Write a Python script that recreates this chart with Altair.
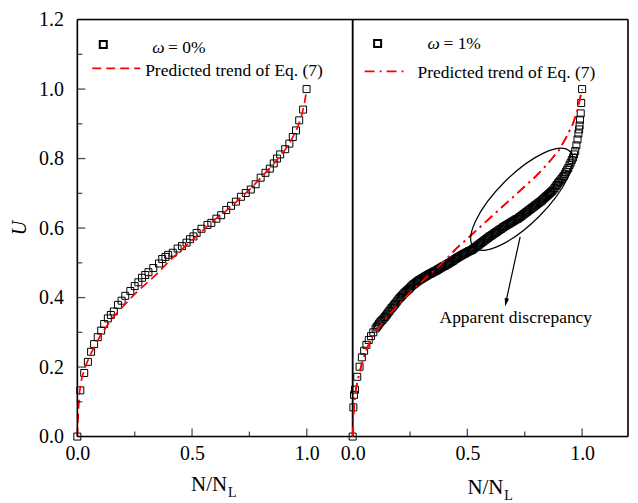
import altair as alt
import pandas as pd

# ---------------- data ----------------
left_x = [0, 0.013, 0.030, 0.046, 0.060, 0.073, 0.089, 0.104, 0.117, 0.133,
          0.146, 0.159, 0.177, 0.193, 0.209, 0.231, 0.250, 0.266, 0.282, 0.296,
          0.310, 0.331, 0.356, 0.370, 0.384, 0.396, 0.416, 0.437, 0.456, 0.476,
          0.491, 0.506, 0.520, 0.541, 0.567, 0.584, 0.606, 0.627, 0.649, 0.670,
          0.691, 0.713, 0.734, 0.756, 0.777, 0.799, 0.820, 0.839, 0.856, 0.870,
          0.884, 0.906, 0.924, 0.939, 0.953, 0.967, 0.984, 0.999]
left_u = [0, 0.133, 0.183, 0.215, 0.244, 0.266, 0.286, 0.305, 0.324, 0.340,
          0.350, 0.360, 0.379, 0.391, 0.405, 0.419, 0.433, 0.444, 0.457, 0.465,
          0.473, 0.485, 0.498, 0.511, 0.517, 0.523, 0.529, 0.541, 0.548, 0.558,
          0.568, 0.576, 0.586, 0.598, 0.609, 0.615, 0.627, 0.637, 0.652, 0.664,
          0.676, 0.690, 0.701, 0.711, 0.726, 0.745, 0.759, 0.771, 0.786, 0.800,
          0.812, 0.827, 0.843, 0.862, 0.881, 0.910, 0.941, 1.0]

left_fit_x = [0, 0.005, 0.01, 0.02, 0.04, 0.06, 0.08, 0.10, 0.15, 0.20, 0.25,
              0.30, 0.35, 0.40, 0.45, 0.50, 0.55, 0.60, 0.65, 0.70, 0.75, 0.80,
              0.85, 0.90, 0.93, 0.96, 0.98, 0.99, 1.0]
left_fit_u = [0, 0.08, 0.13, 0.17, 0.21, 0.24, 0.265, 0.29, 0.34, 0.375, 0.41,
              0.44, 0.47, 0.505, 0.535, 0.565, 0.595, 0.625, 0.65, 0.68, 0.71,
              0.745, 0.78, 0.82, 0.85, 0.89, 0.93, 0.96, 1.0]

right_x = [0, 0.003, 0.006,
           0.01, 0.02, 0.03, 0.04, 0.05, 0.06, 0.07, 0.08, 0.09, 0.10,
           0.11, 0.12, 0.13, 0.14, 0.15, 0.16, 0.17, 0.18, 0.19, 0.20,
           0.21, 0.22, 0.23, 0.24, 0.25, 0.26, 0.27, 0.28, 0.29, 0.30,
           0.31, 0.32, 0.33, 0.34, 0.35, 0.36, 0.37, 0.38, 0.39, 0.40,
           0.41, 0.42, 0.43, 0.44, 0.45, 0.46, 0.47, 0.48, 0.49, 0.50,
           0.51, 0.52, 0.53, 0.54, 0.55, 0.56, 0.57, 0.58, 0.59, 0.60,
           0.61, 0.62, 0.63, 0.64, 0.65, 0.66, 0.67, 0.68, 0.69, 0.70,
           0.71, 0.72, 0.73, 0.74, 0.75, 0.76, 0.77, 0.78, 0.79, 0.80,
           0.81, 0.82, 0.83, 0.84, 0.85, 0.86, 0.87, 0.88, 0.89, 0.90,
           0.91, 0.92, 0.93, 0.94, 0.95, 0.96,
           0.965, 0.97, 0.975, 0.98, 0.984, 0.987, 0.989, 0.991, 0.994, 0.996, 1.0]
right_u = [0, 0.084, 0.120,
           0.135, 0.172, 0.201, 0.228, 0.247, 0.264, 0.278, 0.289, 0.300, 0.311,
           0.320, 0.329, 0.336, 0.344, 0.352, 0.361, 0.370, 0.378, 0.386, 0.395,
           0.402, 0.409, 0.416, 0.422, 0.428, 0.435, 0.440, 0.445, 0.450, 0.454,
           0.458, 0.462, 0.466, 0.469, 0.473, 0.476, 0.480, 0.484, 0.488, 0.491,
           0.495, 0.499, 0.503, 0.507, 0.512, 0.516, 0.520, 0.524, 0.527, 0.531,
           0.534, 0.537, 0.542, 0.547, 0.552, 0.557, 0.562, 0.567, 0.572, 0.577,
           0.581, 0.586, 0.590, 0.595, 0.599, 0.604, 0.608, 0.612, 0.616, 0.620,
           0.624, 0.627, 0.632, 0.637, 0.642, 0.647, 0.652, 0.657, 0.662, 0.667,
           0.672, 0.677, 0.683, 0.689, 0.695, 0.701, 0.707, 0.715, 0.724, 0.733,
           0.741, 0.750, 0.762, 0.773, 0.788, 0.803,
           0.812, 0.822, 0.838, 0.855, 0.872, 0.884, 0.895, 0.912, 0.930, 0.960, 1.0]

# denser squares of the omega = 1% band (between the ones above)
right_x_more = [0.105, 0.115, 0.125, 0.135, 0.145, 0.155, 0.165, 0.175, 0.185, 0.195,
                0.205, 0.215, 0.225, 0.235, 0.245, 0.255, 0.265, 0.275, 0.285, 0.295,
                0.305, 0.315, 0.325, 0.335, 0.345, 0.355, 0.365, 0.375, 0.385, 0.395,
                0.405, 0.415, 0.425, 0.435, 0.445, 0.455, 0.465, 0.475, 0.485, 0.495,
                0.505, 0.515, 0.525, 0.535, 0.545, 0.555, 0.565, 0.575, 0.585, 0.595,
                0.605, 0.615, 0.625, 0.635, 0.645, 0.655, 0.665, 0.675, 0.685, 0.695,
                0.705, 0.715, 0.725, 0.735, 0.745, 0.755, 0.765, 0.775, 0.785, 0.795,
                0.805, 0.815, 0.825, 0.835, 0.845, 0.855, 0.865, 0.875, 0.885, 0.895,
                0.905, 0.915, 0.925, 0.935, 0.945, 0.955]
right_u_more = [0.316, 0.325, 0.333, 0.340, 0.348, 0.357, 0.366, 0.374, 0.382, 0.391,
                0.399, 0.406, 0.413, 0.419, 0.425, 0.432, 0.438, 0.443, 0.448, 0.452,
                0.456, 0.460, 0.464, 0.468, 0.471, 0.475, 0.478, 0.482, 0.486, 0.490,
                0.493, 0.497, 0.501, 0.505, 0.510, 0.514, 0.518, 0.522, 0.526, 0.529,
                0.533, 0.536, 0.540, 0.545, 0.550, 0.555, 0.560, 0.565, 0.570, 0.575,
                0.579, 0.584, 0.588, 0.593, 0.597, 0.602, 0.606, 0.610, 0.614, 0.618,
                0.622, 0.626, 0.630, 0.635, 0.640, 0.645, 0.650, 0.655, 0.660, 0.665,
                0.670, 0.675, 0.680, 0.686, 0.692, 0.698, 0.704, 0.711, 0.720, 0.729,
                0.737, 0.746, 0.756, 0.768, 0.781, 0.796]

right_fit_x = [0, 0.003, 0.008, 0.015, 0.025, 0.04, 0.06, 0.08, 0.10, 0.15, 0.20,
               0.25, 0.30, 0.35, 0.40, 0.45, 0.50, 0.55, 0.60, 0.65, 0.70, 0.75,
               0.80, 0.85, 0.90, 0.93, 0.96, 0.98, 1.0]
right_fit_u = [0, 0.06, 0.10, 0.14, 0.17, 0.21, 0.25, 0.28, 0.30, 0.345, 0.38,
               0.415, 0.445, 0.475, 0.505, 0.54, 0.57, 0.60, 0.63, 0.66, 0.69, 0.72,
               0.75, 0.785, 0.825, 0.86, 0.90, 0.94, 1.0]

x_label_values = [0.0, 0.5, 1.0]
y_label_values = [0.0, 0.2, 0.4, 0.6, 0.8, 1.0, 1.2]
x_major_ticks = [0.5, 1.0]
x_minor_ticks = [0.25, 0.75]
y_major_ticks = [0.2, 0.4, 0.6, 0.8, 1.0]
y_minor_ticks = [0.1, 0.3, 0.5, 0.7, 0.9, 1.1]

# ---------------- styling ----------------
FONT = "Liberation Serif"
W, H = 276, 418
RED = "#ff0000"
LEG = 17.5
FRAME_W = 1.6

xs = alt.Scale(domain=[0, 1.2], nice=False, zero=False)
ys = alt.Scale(domain=[0, 1.2], nice=False, zero=False)

X_AXIS = alt.Axis(values=x_label_values, format=".1f", labelFont=FONT, labelFontSize=20,
                  labelColor="black", ticks=False, tickSize=0, domain=False, grid=False,
                  labelPadding=7, labelFlush=False, labelOverlap=False, title=None)
Y_AXIS = alt.Axis(values=y_label_values, format=".1f", labelFont=FONT, labelFontSize=20,
                  labelColor="black", ticks=False, tickSize=0, domain=False, grid=False,
                  labelPadding=14, labelFlush=False, labelOverlap=False, title=None)

one = alt.Data(values=[{}])


def txt(s, x, y, size=LEG, style="normal", align="left", baseline="alphabetic", angle=0):
    return alt.Chart(one).mark_text(
        text=s, font=FONT, fontSize=size, fontStyle=style, align=align,
        baseline=baseline, angle=angle, color="black"
    ).encode(x=alt.value(x), y=alt.value(y))


def frame():
    # black box around the plot area
    r = lambda: alt.Chart(one).mark_rule(color="black", strokeWidth=FRAME_W)
    return [
        r().encode(x=alt.value(0), y=alt.value(0), y2=alt.value(H)),
        r().encode(x=alt.value(W), y=alt.value(0), y2=alt.value(H)),
        r().encode(y=alt.value(0), x=alt.value(0), x2=alt.value(W)),
        r().encode(y=alt.value(H), x=alt.value(0), x2=alt.value(W)),
    ]


def build_panel(px, pu, fx, fu, dash, y_axis, extras):
    X = lambda f: alt.X(f, scale=xs, axis=X_AXIS)
    Y = lambda f: alt.Y(f, scale=ys, axis=y_axis)
    layers = [
        alt.Chart(pd.DataFrame({"x": px, "u": pu})).mark_point(
            shape="square", size=49, filled=False, color="black", strokeWidth=1, opacity=1
        ).encode(x=X("x:Q"), y=Y("u:Q")),
        alt.Chart(pd.DataFrame({"x": fx, "u": fu})).mark_line(
            color=RED, strokeWidth=1.7, strokeDash=dash
        ).encode(x=X("x:Q"), y=Y("u:Q")),
        alt.Chart(pd.DataFrame({"x": x_major_ticks})).mark_tick(color="black", thickness=1.3, size=8)
        .encode(x=X("x:Q"), y=alt.value(H - 4)),
        alt.Chart(pd.DataFrame({"x": x_minor_ticks})).mark_tick(color="black", thickness=1.3, size=5)
        .encode(x=X("x:Q"), y=alt.value(H - 2.5)),
    ]
    if y_axis is not None:
        layers += [
            alt.Chart(pd.DataFrame({"u": y_major_ticks})).mark_tick(color="black", thickness=1.3, size=8)
            .encode(y=Y("u:Q"), x=alt.value(4)),
            alt.Chart(pd.DataFrame({"u": y_minor_ticks})).mark_tick(color="black", thickness=1.3, size=5)
            .encode(y=Y("u:Q"), x=alt.value(2.5)),
        ]
    layers += frame()
    layers += extras(X, Y)
    return alt.layer(*layers).properties(width=W, height=H)


DASH = [9, 5]
DASHDOT = [10, 5, 2, 5]


def left_extras(X, Y):
    return [
        alt.Chart(one).mark_point(shape="square", size=49, filled=False, color="black", opacity=1)
        .encode(x=alt.value(26), y=alt.value(25)),
        txt("ω", 75, 34, style="italic"),
        txt("= 0%", 91, 34),
        alt.Chart(one).mark_rule(color=RED, strokeWidth=1.7, strokeDash=DASH)
        .encode(x=alt.value(15), x2=alt.value(63), y=alt.value(49)),
        txt("Predicted trend of Eq. (7)", 68, 57),
        txt("U", -57.5, 209, size=20, style="italic", align="center", baseline="middle", angle=270),
        txt("N/N", 114, 473, size=21),
        txt("L", 151, 479, size=14),
    ]


ELLIPSE = "M -1 0 A 1 0.36 0 1 0 1 0 A 1 0.36 0 1 0 -1 0 Z"
ARROWHEAD = "M 0 1 L -0.45 -0.7 L 0.45 -0.7 Z"


def right_extras(X, Y):
    return [
        alt.Chart(pd.DataFrame({"x": right_x_more, "u": right_u_more})).mark_point(
            shape="square", size=49, filled=False, color="black", strokeWidth=1, opacity=1
        ).encode(x=X("x:Q"), y=Y("u:Q")),
        alt.Chart(pd.DataFrame({"x": right_fit_x, "u": right_fit_u})).mark_line(
            color=RED, strokeWidth=1.7, strokeDash=DASHDOT
        ).encode(x=X("x:Q"), y=Y("u:Q")),
        alt.Chart(pd.DataFrame({"x": [0.737], "u": [0.683]})).mark_point(
            shape=ELLIPSE, size=18496, angle=315, filled=False, color="black", strokeWidth=1.2, opacity=1
        ).encode(x=X("x:Q"), y=Y("u:Q")),
        alt.Chart(pd.DataFrame({"x": [0.73], "u": [0.575], "x2": [0.667], "u2": [0.385]})).mark_rule(
            color="black", strokeWidth=1.2
        ).encode(x=X("x:Q"), y=Y("u:Q"), x2="x2:Q", y2="u2:Q"),
        alt.Chart(pd.DataFrame({"x": [0.669], "u": [0.388]})).mark_point(
            shape=ARROWHEAD, size=100, angle=12, filled=True, color="black", opacity=1
        ).encode(x=X("x:Q"), y=Y("u:Q")),
        alt.Chart(pd.DataFrame({"x": [0.711], "u": [0.327]})).mark_text(
            text="Apparent discrepancy", font=FONT, fontSize=LEG, align="center",
            baseline="alphabetic", color="black"
        ).encode(x=X("x:Q"), y=Y("u:Q")),
        alt.Chart(one).mark_point(shape="square", size=49, filled=False, color="black", opacity=1)
        .encode(x=alt.value(25), y=alt.value(24)),
        txt("ω", 75, 30, style="italic"),
        txt("= 1%", 91, 30),
        alt.Chart(one).mark_rule(color=RED, strokeWidth=1.7, strokeDash=DASHDOT)
        .encode(x=alt.value(12), x2=alt.value(55), y=alt.value(52)),
        txt("Predicted trend of Eq. (7)", 65, 59),
        txt("N/N", 115, 476, size=21),
        txt("L", 152, 482, size=14),
    ]


left = build_panel(left_x, left_u, left_fit_x, left_fit_u, DASH, Y_AXIS, left_extras)
right = build_panel(right_x, right_u, right_fit_x, right_fit_u, DASHDOT, None, right_extras)

chart = alt.hconcat(left, right, spacing=0).properties(
    bounds="flush",
    padding={"left": 1.5, "top": 0, "right": 0, "bottom": 0},
).configure_view(
    stroke="black", strokeWidth=1.5
).configure(background="white")

chart.save("out.html", embed_options={"renderer": "svg", "actions": False})
